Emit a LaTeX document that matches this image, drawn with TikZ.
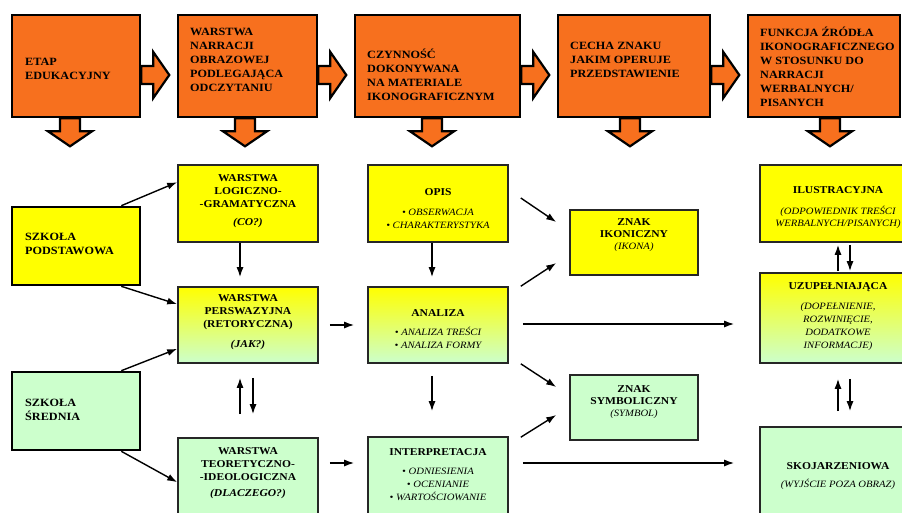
\documentclass[tikz,border=0pt]{standalone}
\usepackage{fontspec}
\setmainfont{Liberation Serif}[FakeStretch=1.1]
\usetikzlibrary{arrows.meta,backgrounds}
\definecolor{orng}{RGB}{247,112,30}
\definecolor{ylw}{RGB}{255,255,0}
\definecolor{lgrn}{RGB}{204,255,204}
\newcommand\itl[1]{{\fontsize{9.7}{12}\selectfont\mdseries\itshape #1}}
\newcommand\rightblk[1]{\draw[blk] #1 ++(0,-9) -- ++(12,0) -- ++(0,-14) -- ++(16,23) -- ++(-16,23) -- ++(0,-14) -- ++(-12,0) -- cycle;}
\newcommand\downblk[1]{\draw[blk] #1 ++(-10,0) -- ++(0,13) -- ++(-12,0) -- ++(22,15) -- ++(22,-15) -- ++(-12,0) -- ++(0,-13) -- cycle;}
\begin{document}
\begin{tikzpicture}[x=1pt,y=-1pt,
  topbox/.style={draw=black,line width=2.6pt,fill=orng,inner sep=0pt},
  schbox/.style={draw=black,line width=2.6pt,inner sep=0pt},
  midbox/.style={draw=black!85,line width=1.6pt,inner sep=0pt},
  yfill/.style={fill=ylw},
  gfill/.style={fill=lgrn},
  grad/.style={top color=ylw,bottom color=lgrn},
  blk/.style={draw=black,line width=2.2pt,fill=orng,line join=miter},
  conn/.style={line width=1.4pt,-{Latex[length=10pt,width=7pt]}},
  ttxt/.style={anchor=west,align=left,font=\fontsize{11.1}{14}\selectfont\bfseries,inner sep=0pt},
  ctxt/.style={align=center,font=\fontsize{10.5}{13}\selectfont\bfseries,inner sep=0pt},
]
\clip (0,0) rectangle (902,512);
% top row
\node[topbox,minimum width=128pt,minimum height=102pt] (t1) at (76,66) {};
\node[topbox,minimum width=139pt,minimum height=102pt] (t2) at (247.5,66) {};
\node[topbox,minimum width=165pt,minimum height=102pt] (t3) at (437.5,66) {};
\node[topbox,minimum width=152pt,minimum height=102pt] (t4) at (634,66) {};
\node[topbox,minimum width=152pt,minimum height=102pt] (t5) at (824,66) {};
\begin{pgfonlayer}{background}
\rightblk{([yshift=-9pt]t1.east)}
\rightblk{([yshift=-9pt]t2.east)}
\rightblk{([yshift=-9pt]t3.east)}
\rightblk{([yshift=-9pt]t4.east)}
\downblk{([xshift=-6pt]t1.south)}
\downblk{([xshift=-2.5pt]t2.south)}
\downblk{([xshift=-5.5pt]t3.south)}
\downblk{([xshift=-4pt]t4.south)}
\downblk{([xshift=6pt]t5.south)}
\end{pgfonlayer}
\node[ttxt] (t1l) at (25,68.5) {ETAP\\EDUKACYJNY};
\node[ttxt] (t2l) at (190,60) {WARSTWA\\NARRACJI\\OBRAZOWEJ\\PODLEGAJĄCA\\ODCZYTANIU};
\node[ttxt] (t3l) at (367,75) {CZYNNOŚĆ\\DOKONYWANA\\NA MATERIALE\\IKONOGRAFICZNYM};
\node[ttxt] (t4l) at (570,60) {CECHA ZNAKU\\JAKIM OPERUJE\\PRZEDSTAWIENIE};
\node[ttxt] (t5l) at (760,66.5) {FUNKCJA ŹRÓDŁA\\IKONOGRAFICZNEGO\\W STOSUNKU DO\\NARRACJI\\WERBALNYCH/\\PISANYCH};
% school boxes
\node[schbox,yfill,minimum width=128pt,minimum height=78pt] (sp) at (76,246) {};
\node[schbox,gfill,minimum width=128pt,minimum height=78pt] (ss) at (76,411) {};
\node[ttxt] (spl) at (25,244) {SZKOŁA\\PODSTAWOWA};
\node[ttxt] (ssl) at (25,409.5) {SZKOŁA\\ŚREDNIA};
% column 2
\node[midbox,yfill,minimum width=140pt,minimum height=77pt] (lg) at (248,203.5) {};
\node[midbox,grad,minimum width=140pt,minimum height=76pt] (pe) at (248,325) {};
\node[midbox,gfill,minimum width=140pt,minimum height=77pt] (te) at (248,476.5) {};
\node[ctxt] (lgl) at (248,201.5) {WARSTWA\\LOGICZNO-\\-GRAMATYCZNA\\[5pt]{\itshape (CO?)}};
\node[ctxt] (pel) at (248,322.5) {WARSTWA\\PERSWAZYJNA\\(RETORYCZNA)\\[7pt]{\itshape (JAK?)}};
\node[ctxt] (tel) at (248,473) {WARSTWA\\TEORETYCZNO-\\-IDEOLOGICZNA\\[3pt]{\itshape (DLACZEGO?)}};
% column 3
\node[midbox,yfill,minimum width=140pt,minimum height=77pt] (op) at (438,203.5) {};
\node[midbox,grad,minimum width=140pt,minimum height=76pt] (an) at (438,325) {};
\node[midbox,gfill,minimum width=140pt,minimum height=77pt] (in) at (438,475.5) {};
\node[ctxt] (opl) at (438,208.5) {OPIS\\[7pt]\itl{• OBSERWACJA}\\\itl{• CHARAKTERYSTYKA}};
\node[ctxt] (anl) at (438,329) {ANALIZA\\[6pt]\itl{• ANALIZA TREŚCI}\\\itl{• ANALIZA FORMY}};
\node[ctxt] (inl) at (438,475) {INTERPRETACJA\\[6pt]\itl{• ODNIESIENIA}\\\itl{• OCENIANIE}\\\itl{• WARTOŚCIOWANIE}};
% column 4
\node[midbox,yfill,minimum width=128pt,minimum height=65pt] (zi) at (634,242.5) {};
\node[midbox,gfill,minimum width=128pt,minimum height=65pt] (zs) at (634,407.5) {};
\node[ctxt] (zil) at (634,235) {ZNAK\\[-1pt]IKONICZNY\\[-1pt]\itl{(IKONA)}};
\node[ctxt] (zsl) at (634,402.5) {ZNAK\\[-1pt]SYMBOLICZNY\\[-1pt]\itl{(SYMBOL)}};
% column 5
\node[midbox,yfill,minimum width=156pt,minimum height=77pt] (il) at (838,203.5) {};
\node[midbox,grad,minimum width=156pt,minimum height=90pt] (uz) at (838,318) {};
\node[midbox,gfill,minimum width=156pt,minimum height=87pt] (sk) at (838,470.5) {};
\node[ctxt] (ill) at (838,207.5) {ILUSTRACYJNA\\[8pt]\itl{(ODPOWIEDNIK TREŚCI}\\[-1pt]\itl{WERBALNYCH/PISANYCH)}};
\node[ctxt] (uzl) at (838,317) {UZUPEŁNIAJĄCA\\[7pt]\itl{(DOPEŁNIENIE,}\\\itl{ROZWINIĘCIE,}\\\itl{DODATKOWE}\\\itl{INFORMACJE)}};
\node[ctxt] (skl) at (838,476) {SKOJARZENIOWA\\[5pt]\itl{(WYJŚCIE POZA OBRAZ)}};
% connectors
\draw[conn] ([xshift=-20pt]sp.north east) -- ([yshift=-18pt]lg.north west);
\draw[conn] ([xshift=-20pt]sp.south east) -- ([yshift=-18pt]pe.north west);
\draw[conn] ([xshift=-20pt]ss.north east) -- ([yshift=15pt]pe.south west);
\draw[conn] ([xshift=-20pt]ss.south east) -- ([yshift=-45pt]te.north west);
\draw[conn] ([xshift=-8pt]lg.south) -- ([xshift=-8pt,yshift=9pt]pe.north);
\draw[conn] ([xshift=-8pt,yshift=23pt]te.north) -- ([xshift=-8pt,yshift=-14pt]pe.south);
\draw[conn] ([xshift=5pt,yshift=-14pt]pe.south) -- ([xshift=5pt,yshift=23pt]te.north);
\draw[conn] ([xshift=11pt]pe.east) -- ([xshift=-13pt]an.west);
\draw[conn] ([xshift=11pt,yshift=13.5pt]te.east) -- ([xshift=-13pt,yshift=12.5pt]in.west);
\draw[conn] ([xshift=-6pt]op.south) -- ([xshift=-6pt,yshift=9pt]an.north);
\draw[conn] ([xshift=-6pt,yshift=-12pt]an.south) -- ([xshift=-6pt,yshift=25pt]in.north);
\draw[conn] ([xshift=12pt,yshift=5.5pt]op.east) -- ([xshift=-13pt,yshift=20.5pt]zi.west);
\draw[conn] ([xshift=12pt]an.north east) -- ([xshift=-13pt,yshift=-20.5pt]zi.west);
\draw[conn] ([xshift=12pt]an.south east) -- ([xshift=-13pt,yshift=20.5pt]zs.west);
\draw[conn] ([xshift=12pt,yshift=-1pt]in.north east) -- ([xshift=-13pt,yshift=-7.5pt]zs.west);
\draw[conn] ([xshift=14pt,yshift=1pt]an.east) -- ([xshift=-25pt,yshift=-6pt]uz.west);
\draw[conn] ([xshift=14pt,yshift=12.5pt]in.east) -- ([xshift=-25pt,yshift=7.5pt]sk.west);
\draw[conn] ([yshift=1pt]uz.north) -- ([yshift=-2pt]il.south);
\draw[conn] ([xshift=12pt,yshift=-2pt]il.south) -- ([xshift=12pt,yshift=1pt]uz.north);
\draw[conn] ([yshift=15pt]sk.north) -- ([yshift=-15pt]uz.south);
\draw[conn] ([xshift=12pt,yshift=-15pt]uz.south) -- ([xshift=12pt,yshift=15pt]sk.north);
\end{tikzpicture}
\end{document}
